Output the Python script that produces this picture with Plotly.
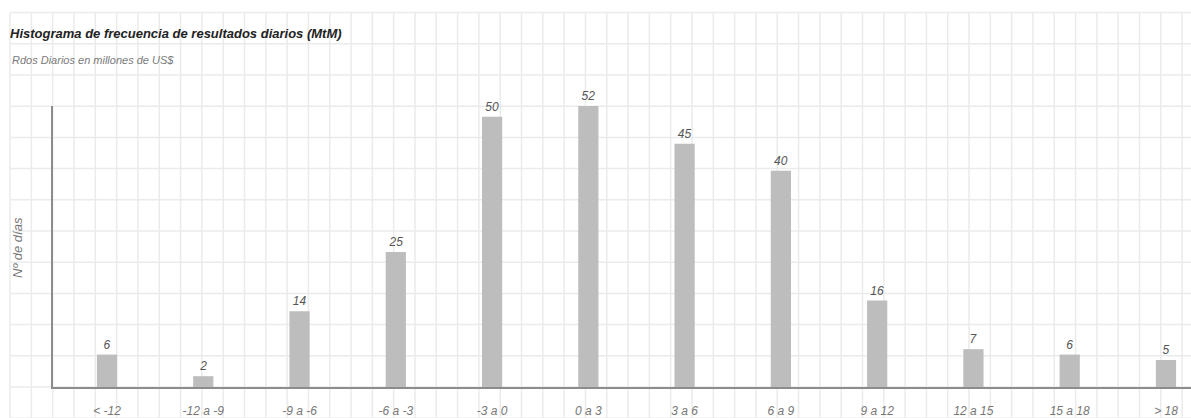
import plotly.graph_objects as go

# Daily P&L buckets (millions of US$) and number of days in each
categorias = ["< -12", "-12 a -9", "-9 a -6", "-6 a -3", "-3 a 0", "0 a 3",
              "3 a 6", "6 a 9", "9 a 12", "12 a 15", "15 a 18", "> 18"]
dias = [6, 2, 14, 25, 50, 52, 45, 40, 16, 7, 6, 5]

W, H = 1191, 418
ML, MR, MT, MB = 53, 0, 106, 31
PW, PH = W - ML - MR, H - MT - MB

FONT = "Liberation Sans, Arial, sans-serif"


def px_x(px):
    return (px - ML) / PW


def px_y(py):
    return (H - MB - py) / PH


fig = go.Figure()
fig.add_trace(go.Bar(
    x=categorias,
    y=dias,
    width=0.21,
    marker=dict(color="#bdbdbd", line=dict(width=0)),
    text=dias,
    textposition="outside",
    textfont=dict(family=FONT, size=12, color="#555555", style="italic"),
    cliponaxis=False,
    hoverinfo="x+y",
))

# Graph-paper background covering the whole canvas
shapes = []
x0_px, dx_px = 52.7, 21.31
k = -2
while x0_px + k * dx_px <= W + 1:
    xp = x0_px + k * dx_px
    shapes.append(dict(type="line", xref="paper", yref="paper",
                       x0=px_x(xp), x1=px_x(xp), y0=px_y(13), y1=px_y(H),
                       line=dict(color="#ebebeb", width=1.5), layer="below"))
    k += 1
y0_px, dy_px = 387, 31.2
for j in range(-1, 13):
    yp = y0_px - j * dy_px
    shapes.append(dict(type="line", xref="paper", yref="paper",
                       x0=px_x(10), x1=px_x(W), y0=px_y(yp), y1=px_y(yp),
                       line=dict(color="#ebebeb", width=1.5), layer="below"))

fig.update_layout(
    width=W, height=H,
    margin=dict(l=ML, r=MR, t=MT, b=MB, pad=0),
    paper_bgcolor="white", plot_bgcolor="rgba(0,0,0,0)",
    showlegend=False,
    bargap=0.79,
    font=dict(family=FONT),
    title=dict(
        text="Histograma de frecuencia de resultados diarios (MtM)",
        xref="container", yref="container",
        x=10 / W, xanchor="left", y=1 - 33 / H, yanchor="middle",
        font=dict(family=FONT, size=13, color="#222222", weight="bold", style="italic"),
    ),
    annotations=[
        dict(text="Rdos Diarios en millones de US$", xref="paper", yref="paper",
             x=px_x(10), y=px_y(60), xanchor="left", yanchor="middle",
             showarrow=False,
             font=dict(family=FONT, size=11, color="#7a7a7a", style="italic")),
        dict(text="Nº de días", xref="paper", yref="paper",
             x=px_x(18), y=px_y(248), xanchor="center", yanchor="middle",
             textangle=-90, showarrow=False,
             font=dict(family=FONT, size=13, color="#777777", style="italic")),
    ],
    shapes=shapes,
    xaxis=dict(
        type="category",
        range=[-0.561, 11.26],
        showline=True, linecolor="#8c8c8c", linewidth=2,
        showgrid=False, zeroline=False,
        ticks="outside", ticklen=12, tickcolor="rgba(0,0,0,0)",
        tickfont=dict(family=FONT, size=12, color="#777777", style="italic"),
        fixedrange=True,
    ),
    yaxis=dict(
        range=[0, 52],
        showline=True, linecolor="#8c8c8c", linewidth=2,
        showgrid=False, zeroline=False, showticklabels=False, ticks="",
        fixedrange=True,
    ),
)

fig.write_html("out.html")
